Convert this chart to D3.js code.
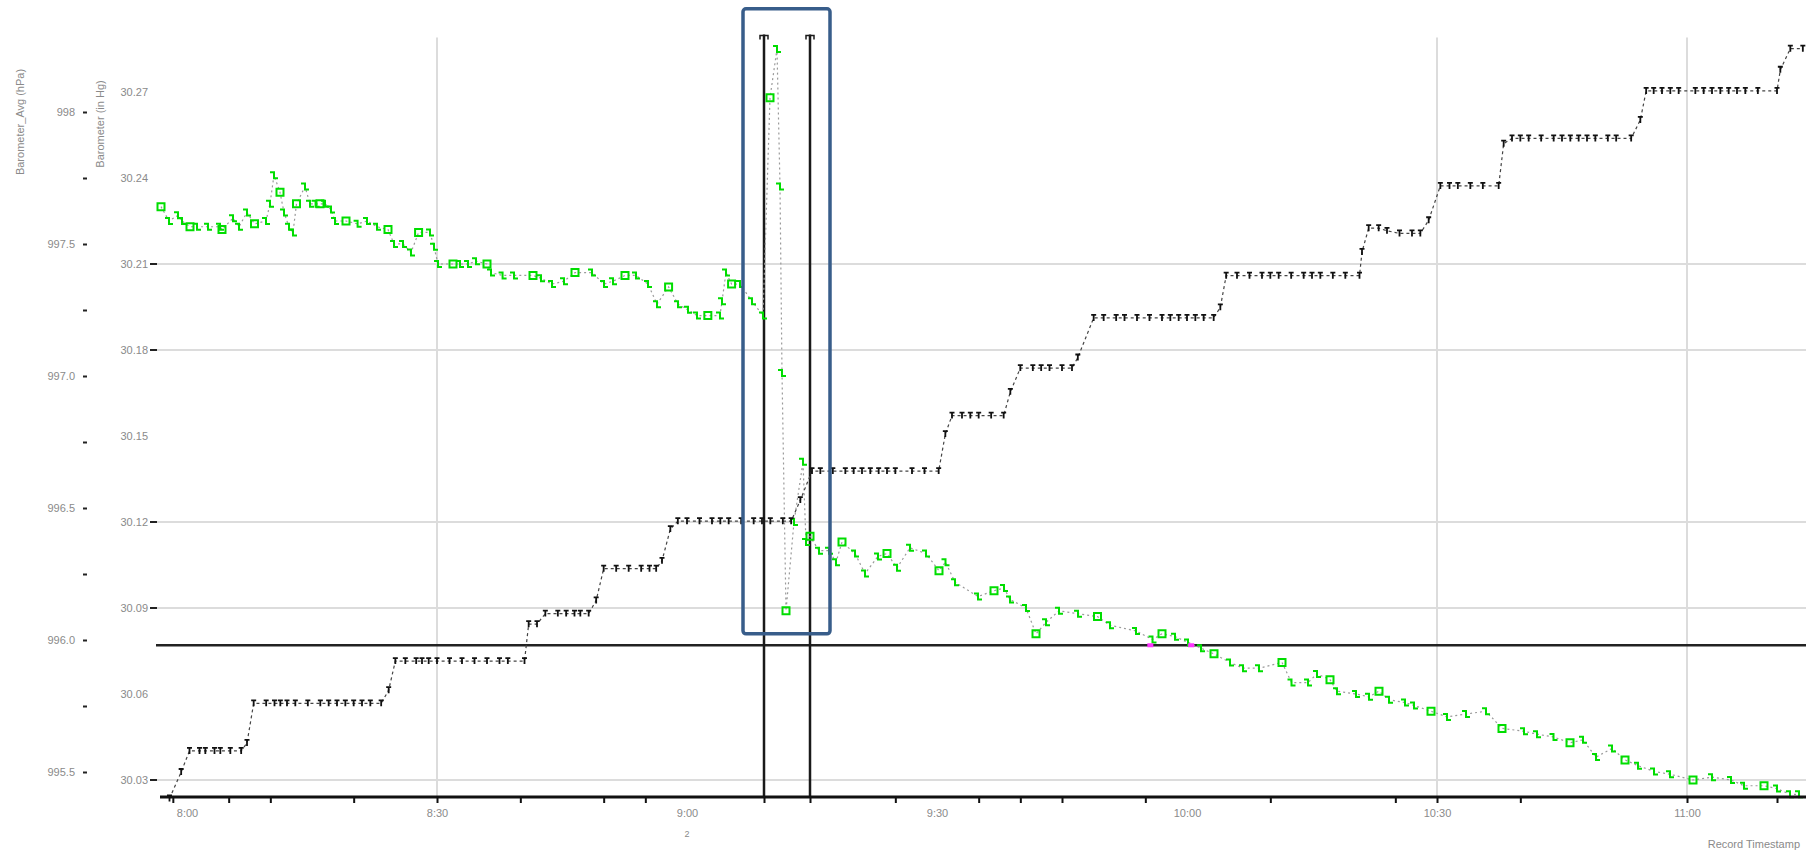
<!DOCTYPE html>
<html lang="en">
<head>
<meta charset="UTF-8">
<title>barometer trend</title>
<script src="https://d3js.org/d3.v7.min.js"></script>
<style>
    body{margin:0;background:#fff;}
    .chart text{font-family:"Liberation Sans",Arial,sans-serif;font-size:11px;fill:#8a8a8a;}
    .grid line{stroke:#dcdcdc;stroke-width:2;}
    .axis path{display:none;}
</style>
</head>
<body>
<svg class="chart"></svg>
<script>
// minutes after 8:00
const xTickMinutes=[0,30,60,90,120,150,180];
const xTickLabels=['8:00','8:30','9:00','9:30','10:00','10:30','11:00'];
const xMinorMinutes=[-1.7,5,10,20,30,40,50,55,69.24,74.76,85,95,100,105,115,130,145,150,160,180,190.8];
const xGridMinutes=[30,150,180];

const innerTicks=[30.03,30.06,30.09,30.12,30.15,30.18,30.21,30.24,30.27];
const innerGrid=[30.03,30.09,30.12,30.18,30.21];
const outerTicks=[995.5,995.75,996,996.25,996.5,996.75,997,997.25,997.5,997.75,998];
const outerLabels={'995.5':'995.5','996':'996.0','996.5':'996.5','997':'997.0','997.5':'997.5','998':'998'};

const eventMinutes=[69.24,74.76];
const refLevel=30.077;
const crossMinutes=[115.6,120.5];

// black series, outer axis [minute, value]
const blackPoints=[
 [-2.1,995.40],[-0.7,995.50],
 [0.3,995.58],[1.5,995.58],[2.2,995.58],[3.3,995.58],[4.0,995.58],[5.2,995.58],[6.5,995.58],
 [7.2,995.61],
 [8.0,995.76],[9.5,995.76],[10.5,995.76],[11.2,995.76],[12.0,995.76],[13.0,995.76],[14.5,995.76],[16.0,995.76],
 [17.0,995.76],[18.0,995.76],[19.0,995.76],[20.0,995.76],[21.0,995.76],[22.0,995.76],[23.3,995.76],
 [24.2,995.81],
 [25.0,995.92],[26.2,995.92],[27.5,995.92],[28.2,995.92],[29.0,995.92],[30.0,995.92],[31.5,995.92],
 [33.0,995.92],[34.5,995.92],[36.0,995.92],[37.5,995.92],[38.5,995.92],[40.5,995.92],
 [41.0,996.06],[42.0,996.06],
 [43.0,996.10],[44.5,996.10],[45.5,996.10],[46.5,996.10],[47.2,996.10],[48.2,996.10],
 [49.1,996.15],
 [50.0,996.27],[51.5,996.27],[53.0,996.27],[54.5,996.27],[55.5,996.27],[56.3,996.27],
 [57.0,996.30],[58.0,996.42],
 [58.9,996.45],[60.0,996.45],[61.5,996.45],[63.0,996.45],[64.0,996.45],[65.0,996.45],
 [66.5,996.45],[68.0,996.45],[69.0,996.45],[70.0,996.45],[71.5,996.45],[72.5,996.45],
 [73.6,996.53],
 [75.0,996.64],[76.0,996.64],[77.5,996.64],[79.0,996.64],[80.0,996.64],[81.0,996.64],[82.0,996.64],
 [83.0,996.64],[84.0,996.64],[85.0,996.64],[87.0,996.64],[88.5,996.64],[90.2,996.64],
 [91.0,996.78],
 [91.8,996.85],[93.0,996.85],[94.0,996.85],[95.0,996.85],[96.5,996.85],[98.0,996.85],
 [98.8,996.94],
 [100.0,997.03],[101.5,997.03],[102.5,997.03],[103.5,997.03],[105.0,997.03],[106.2,997.03],
 [106.9,997.07],
 [108.8,997.22],[110.0,997.22],[111.5,997.22],[112.5,997.22],[114.0,997.22],[115.5,997.22],[117.0,997.22],
 [118.0,997.22],[119.0,997.22],[120.0,997.22],[121.0,997.22],[122.0,997.22],[123.2,997.22],
 [124.0,997.26],
 [124.7,997.38],[126.0,997.38],[127.5,997.38],[129.0,997.38],[130.0,997.38],[131.0,997.38],[132.5,997.38],
 [134.0,997.38],[135.0,997.38],[136.0,997.38],[137.5,997.38],[139.0,997.38],[140.7,997.38],
 [141.0,997.47],
 [141.8,997.56],[143.0,997.56],[144.0,997.55],[145.5,997.54],[147.0,997.54],[148.0,997.54],
 [149.0,997.59],
 [150.4,997.72],[151.5,997.72],[152.5,997.72],[154.0,997.72],[155.5,997.72],[157.4,997.72],
 [158.0,997.88],
 [159.0,997.90],[160.0,997.90],[161.0,997.90],[162.5,997.90],[164.0,997.90],[165.0,997.90],[166.0,997.90],
 [167.0,997.90],[168.0,997.90],[169.0,997.90],[170.5,997.90],[171.5,997.90],[173.3,997.90],
 [174.4,997.97],
 [175.1,998.08],[176.0,998.08],[177.0,998.08],[178.0,998.08],[179.0,998.08],[181.0,998.08],[182.0,998.08],
 [183.0,998.08],[184.0,998.08],[185.0,998.08],[186.0,998.08],[187.0,998.08],[188.5,998.08],[190.8,998.08],
 [191.2,998.16],[192.4,998.24],[193.9,998.24]
];

// green series, inner axis [minute, value]
const greenPoints=[
 [-3.12,30.230],[-2.16,30.225],[-1.08,30.227],[-0.6,30.225],[0.36,30.223],[1.2,30.223],[2.52,30.223],
 [3.96,30.223],[4.2,30.222],[5.52,30.226],[6.24,30.223],[7.2,30.228],[8.1,30.224],[9.48,30.225],
 [9.96,30.231],[10.44,30.241],[11.16,30.235],[11.64,30.228],[12.24,30.223],[12.72,30.221],[13.14,30.231],
 [14.16,30.237],[14.76,30.231],[15.43,30.231],[15.96,30.231],[16.56,30.231],[17.28,30.229],[17.76,30.225],
 [19.08,30.225],[20.47,30.224],[21.6,30.225],[22.8,30.223],[24.12,30.222],[24.84,30.217],[25.92,30.217],
 [26.88,30.214],[27.79,30.221],[29.16,30.221],[29.64,30.216],[30.12,30.210],[31.92,30.210],[32.76,30.210],
 [33.72,30.210],[34.68,30.211],[36.0,30.210],[36.48,30.207],[37.87,30.206],[39.24,30.206],[41.52,30.206],
 [42.48,30.205],[43.8,30.203],[45.24,30.204],[46.56,30.207],[48.6,30.207],[50.04,30.203],[51.12,30.204],
 [52.56,30.206],[53.88,30.206],[55.32,30.203],[56.4,30.196],[57.79,30.202],[58.92,30.196],[60.12,30.194],
 [61.2,30.192],[62.5,30.192],[63.96,30.192],[64.2,30.197],[64.68,30.207],[65.35,30.203],[66.36,30.203],
 [67.8,30.197],[69.12,30.192],[69.96,30.268],[70.8,30.285],[71.16,30.237],[71.4,30.172],[71.88,30.089],
 [72.84,30.120],[73.92,30.141],[74.28,30.113],[74.76,30.115],[75.84,30.110],[77.04,30.110],[77.88,30.106],
 [78.6,30.113],[80.16,30.109],[81.36,30.102],[82.92,30.108],[84.0,30.109],[85.2,30.104],[86.76,30.111],
 [88.68,30.109],[90.24,30.103],[91.02,30.106],[92.16,30.099],[94.92,30.094],[96.84,30.096],[98.04,30.097],
 [98.76,30.093],[100.68,30.090],[101.88,30.081],[103.08,30.085],[104.64,30.089],[106.92,30.088],
 [109.26,30.087],[110.76,30.084],[113.88,30.082],[115.86,30.079],[117.0,30.081],[118.56,30.080],
 [120.12,30.078],[121.68,30.076],[123.24,30.074],[125.16,30.071],[126.72,30.069],[128.64,30.069],
 [131.4,30.071],[132.54,30.064],[134.52,30.064],[135.6,30.067],[137.16,30.065],[138.0,30.061],
 [140.28,30.060],[141.84,30.059],[143.04,30.061],[144.24,30.058],[146.16,30.057],[147.24,30.056],
 [149.28,30.054],[151.2,30.052],[153.48,30.053],[155.88,30.054],[157.8,30.048],[160.44,30.047],
 [162.0,30.046],[163.98,30.045],[165.96,30.043],[167.52,30.044],[169.08,30.038],[171.0,30.041],
 [172.56,30.037],[174.12,30.035],[176.04,30.033],[177.96,30.032],[180.72,30.030],[183.0,30.031],
 [185.28,30.030],[186.84,30.028],[189.24,30.028],[190.8,30.027],[192.36,30.025],[193.44,30.025]
];

// highlighted region (minutes, inner values)
const boxMinutes=[66.72,77.16];
const boxValues=[30.299,30.081];

const width=1806,height=861;
const base=new Date(2020,0,1,8,0,0);
function toTime(m){return new Date(base.getTime()+m*60000);}

let x=d3.scaleTime().domain([toTime(-3.24),toTime(194.28)]).range([160,1806]);
let yIn=d3.scaleLinear().domain([30.03,30.27]).range([780,92]);
let yOut=d3.scaleLinear().domain([995.5,998]).range([772,112]);
const axisY=797, plotTop=yIn(30.289);

let svg=d3.select('.chart').attr('width',width).attr('height',height);

// grid
let grid=svg.append('g').attr('class','grid');
grid.selectAll('.hg').data(innerGrid).enter().append('line')
    .attr('x1',152).attr('x2',width).attr('y1',d=>yIn(d)).attr('y2',d=>yIn(d));
grid.selectAll('.vg').data(xGridMinutes).enter().append('line')
    .attr('x1',d=>x(toTime(d))).attr('x2',d=>x(toTime(d))).attr('y1',plotTop).attr('y2',axisY);

// reference level
svg.append('line').attr('x1',156).attr('x2',width)
    .attr('y1',yIn(refLevel)).attr('y2',yIn(refLevel))
    .attr('stroke','#222').attr('stroke-width',2.5);

// event lines
svg.selectAll('.ev').data(eventMinutes).enter().append('line')
    .attr('x1',d=>x(toTime(d))).attr('x2',d=>x(toTime(d)))
    .attr('y1',plotTop-3).attr('y2',axisY)
    .attr('stroke','#1a1a1a').attr('stroke-width',2.5);
svg.selectAll('.evcap').data(eventMinutes).enter().append('path')
    .attr('d',d=>'M'+(x(toTime(d))-4)+','+(plotTop+2)+'v-4h8v4')
    .attr('fill','none').attr('stroke','#1a1a1a').attr('stroke-width',1.5);

// green series
let gLine=d3.line().x(d=>x(toTime(d[0]))).y(d=>yIn(d[1]));
svg.append('path').datum(greenPoints).attr('d',gLine)
    .attr('fill','none').attr('stroke','#9a9a9a').attr('stroke-width',1.2).attr('stroke-dasharray','2,3');
svg.selectAll('.gm').data(greenPoints).enter().append('path')
    .attr('transform',d=>'translate('+x(toTime(d[0]))+','+yIn(d[1])+')')
    .attr('d',(d,i)=>i%4===0?'M-3.5,-3.5h7v7h-7z':'M-4,-3H0V3H4')
    .attr('fill','none').attr('stroke','#00dd00').attr('stroke-width',2);

// black series
let bLine=d3.line().x(d=>x(toTime(d[0]))).y(d=>yOut(d[1]));
svg.append('path').datum(blackPoints).attr('d',bLine)
    .attr('fill','none').attr('stroke','#444').attr('stroke-width',1.2).attr('stroke-dasharray','3,3');
svg.selectAll('.bm').data(blackPoints).enter().append('path')
    .attr('transform',d=>'translate('+x(toTime(d[0]))+','+yOut(d[1])+')')
    .attr('d','M-2.5,-3H2.5M0,-3V3')
    .attr('fill','none').attr('stroke','#111').attr('stroke-width',1.8);

// crossings
svg.selectAll('.cx').data(crossMinutes).enter().append('rect')
    .attr('x',d=>x(toTime(d))-3).attr('y',yIn(refLevel)-2).attr('width',6).attr('height',4)
    .attr('fill','#ff33ff');

// x axis
let xAxis=svg.append('g').attr('transform','translate(0,'+axisY+')');
xAxis.append('line').attr('x1',160).attr('x2',width).attr('stroke','#111').attr('stroke-width',3);
xAxis.append('g').attr('class','axis')
    .call(d3.axisBottom(x).tickValues(xMinorMinutes.map(toTime)).tickSize(6).tickFormat(''))
    .selectAll('line').attr('stroke','#111').attr('stroke-width',2);
xAxis.append('g').attr('class','axis')
    .call(d3.axisBottom(x).tickValues(xTickMinutes.map(toTime)).tickSize(0).tickPadding(12)
        .tickFormat((d,i)=>xTickLabels[i]));
svg.append('text').attr('x',x(toTime(60))).attr('y',axisY+40).attr('text-anchor','middle')
    .style('font-size','9px').text('2');
svg.append('text').attr('x',1800).attr('y',axisY+51).attr('text-anchor','end').text('Record Timestamp');

// inner axis
svg.append('g').attr('class','axis').attr('transform','translate(156,0)')
    .call(d3.axisLeft(yIn).tickValues(innerTicks).tickSize(0).tickPadding(8).tickFormat(d3.format('.2f')));
svg.selectAll('.it').data(innerGrid).enter().append('line')
    .attr('x1',150).attr('x2',157).attr('y1',d=>yIn(d)).attr('y2',d=>yIn(d))
    .attr('stroke','#222').attr('stroke-width',2);

// outer axis
let outer=svg.append('g').attr('class','axis').attr('transform','translate(87,0)')
    .call(d3.axisLeft(yOut).tickValues(outerTicks).tickSize(4).tickPadding(8)
        .tickFormat(d=>outerLabels[String(d)]||''));
outer.selectAll('line').attr('stroke','#222').attr('stroke-width',2);

// axis titles
svg.append('text').attr('transform','translate(24,122) rotate(-90)').attr('text-anchor','middle')
    .text('Barometer_Avg (hPa)');
svg.append('text').attr('transform','translate(104,124) rotate(-90)').attr('text-anchor','middle')
    .text('Barometer (in Hg)');

// highlight box
svg.append('rect')
    .attr('x',x(toTime(boxMinutes[0]))).attr('y',yIn(boxValues[0]))
    .attr('width',x(toTime(boxMinutes[1]))-x(toTime(boxMinutes[0])))
    .attr('height',yIn(boxValues[1])-yIn(boxValues[0]))
    .attr('rx',3).attr('fill','none').attr('stroke','#385d8a').attr('stroke-width',3.5);
</script>
</body>
</html>
